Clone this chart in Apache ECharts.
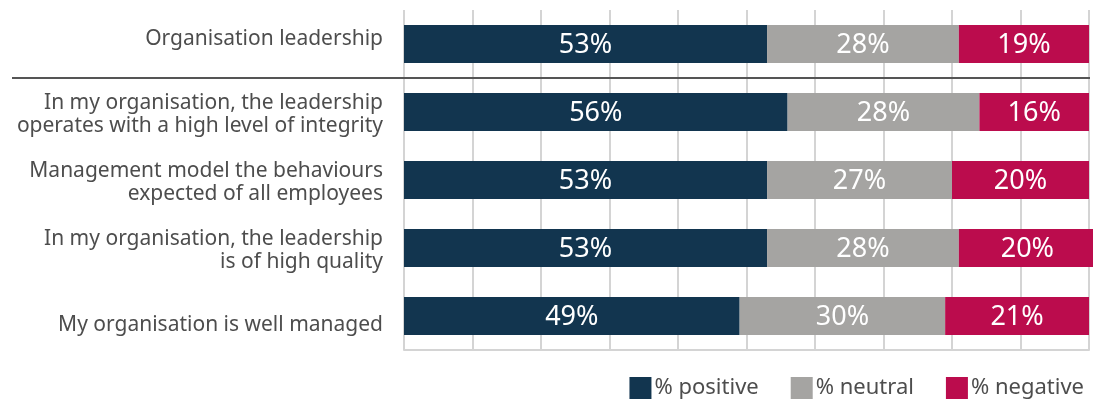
<!DOCTYPE html>
<html>
<head>
<meta charset="utf-8">
<script src="https://cdn.jsdelivr.net/npm/echarts@6/dist/echarts.min.js"></script>
<style>
html,body{margin:0;padding:0;background:#fff;}
#c{width:1093px;height:407px;}
</style>
</head>
<body>
<div id="c"></div>
<script>
var categories = [
  "Organisation leadership",
  "In my organisation, the leadership\noperates with a high level of integrity",
  "Management model the behaviours\nexpected of all employees",
  "In my organisation, the leadership\nis of high quality",
  "My organisation is well managed"
];
var positive = [53, 56, 53, 53, 49];
var neutral  = [28, 28, 27, 28, 30];
var negative = [19, 16, 20, 20, 21];
var seriesNames = ["% positive", "% neutral", "% negative"];
var colors = ["#12354f", "#a5a4a2", "#bb0c4d"];

var FONT = "'Noto Sans', sans-serif";
var chart = echarts.init(document.getElementById('c'));

function mk(name, data, color) {
  return {
    name: name, type: 'bar', stack: 'all', data: data,
    barWidth: 38, clip: false,
    itemStyle: { color: color },
    label: {
      show: true, position: 'inside', color: '#fff',
      fontFamily: FONT, fontSize: 27, offset: [0, 1],
      formatter: function (p) { return p.value + '%'; }
    }
  };
}

var labelStyle = { color: '#4d4d4d', fontSize: 21, lineHeight: 22, fontFamily: FONT, align: 'right' };

chart.setOption({
  animation: false,
  textStyle: { fontFamily: FONT },
  grid: { left: 404, right: 4, top: 10, bottom: 57 },
  xAxis: {
    type: 'value', min: 0, max: 100, interval: 10,
    axisLabel: { show: false },
    axisTick: { show: false },
    axisLine: { show: true, lineStyle: { color: '#d4d4d4', width: 2 } },
    splitLine: { show: true, lineStyle: { color: '#d4d4d4', width: 2 } }
  },
  yAxis: {
    type: 'category', data: categories, inverse: true,
    axisLine: { show: false }, axisTick: { show: false },
    axisLabel: {
      margin: 21, color: '#4d4d4d', fontSize: 21, lineHeight: 22,
      fontFamily: FONT, align: 'right',
      formatter: function (v, i) {
        if (i === 0) return '{up|' + v + '}';
        if (i === categories.length - 1) return '{down|' + v + '}';
        return v.split('\n').map(function (s) { return '{two|' + s + '}'; }).join('\n');
      },
      rich: {
        up: Object.assign({}, labelStyle, { padding: [0, 0, 10, 0] }),
        down: Object.assign({}, labelStyle, { padding: [18, 0, 0, 0] }),
        two: Object.assign({}, labelStyle, { lineHeight: 22.5, padding: [5, 0, 0, 0] })
      }
    }
  },
  legend: {
    data: seriesNames, right: 4, bottom: 3, icon: 'rect',
    itemWidth: 22, itemHeight: 22, itemGap: 32,
    textStyle: { fontSize: 22, color: '#4d4d4d', fontFamily: FONT, padding: [0, 0, 0, -2] }
  },
  series: [
    mk(seriesNames[0], positive, colors[0]),
    mk(seriesNames[1], neutral, colors[1]),
    mk(seriesNames[2], negative, colors[2])
  ]
});

var y0 = chart.convertToPixel({ yAxisIndex: 0 }, 0);
var y1 = chart.convertToPixel({ yAxisIndex: 0 }, 1);
var xr = chart.convertToPixel({ xAxisIndex: 0 }, 100);
var ySep = Math.round((y0 + y1) / 2);
chart.setOption({
  graphic: [{
    type: 'line', z: 10,
    shape: { x1: 12, y1: ySep, x2: xr + 1, y2: ySep },
    style: { stroke: '#555555', lineWidth: 2 }
  }]
});
</script>
</body>
</html>
